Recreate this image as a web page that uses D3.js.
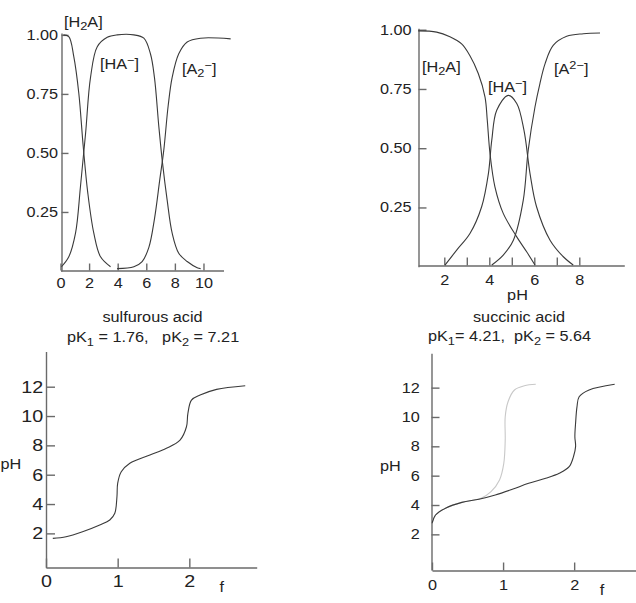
<!DOCTYPE html>
<html>
<head>
<meta charset="utf-8">
<script src="https://cdn.jsdelivr.net/npm/d3@7"></script>
<style>
  body { margin: 0; background: #fff; }
  svg { display: block; }
</style>
</head>
<body>
<div id="chart"></div>
<script>
/* * * * * * * * * * * * * *
*   data *
* * * * * * * * * * * * * */

// sulfurous acid, fraction vs pH
const sulfH2A_pH = [0.2, 0.58, 0.93, 1.28, 1.59, 1.91, 2.33, 2.8, 3.5];
const sulfH2A    = [1.0, 0.993, 0.908, 0.753, 0.527, 0.33, 0.16, 0.06, 0.018];
const sulfHA_pH  = [0.07, 0.58, 1.05, 1.4, 1.75, 2.1, 2.57, 3.27, 3.96, 5.13, 5.83, 6.29, 6.57, 6.88, 7.13, 7.46, 7.81, 8.27, 8.86, 9.56, 9.8];
const sulfHA     = [0.018, 0.06, 0.16, 0.36, 0.58, 0.82, 0.95, 0.99, 1.0, 1.0, 0.986, 0.92, 0.82, 0.61, 0.46, 0.3, 0.16, 0.075, 0.04, 0.014, 0.01];
const sulfA2_pH  = [3.96, 5.13, 5.71, 6.18, 6.57, 6.95, 7.22, 7.53, 7.81, 8.27, 8.86, 9.79, 11.9];
const sulfA2     = [0.01, 0.018, 0.04, 0.1, 0.22, 0.39, 0.51, 0.70, 0.82, 0.92, 0.97, 0.986, 0.983];

// succinic acid, fraction vs pH
const succH2A_pH = [0.84, 1.66, 2.25, 2.77, 3.14, 3.51, 3.81, 3.91, 4.03, 4.25, 4.62, 5.22, 5.66, 6.03];
const succH2A    = [0.995, 0.99, 0.97, 0.94, 0.89, 0.815, 0.716, 0.618, 0.478, 0.337, 0.225, 0.126, 0.063, 0.007];
const succHA_pH  = [2.03, 2.55, 3.14, 3.66, 3.96, 4.11, 4.33, 4.84, 5.22, 5.54, 5.81, 6.1, 6.7, 7.29, 7.73];
const succHA     = [0.007, 0.07, 0.14, 0.253, 0.393, 0.534, 0.66, 0.723, 0.689, 0.576, 0.393, 0.253, 0.112, 0.042, 0.007];
const succA2_pH  = [4.11, 4.62, 5.07, 5.51, 5.73, 6.03, 6.25, 6.48, 6.84, 7.44, 8.18, 8.92];
const succA2     = [0.007, 0.049, 0.112, 0.281, 0.492, 0.674, 0.773, 0.857, 0.934, 0.972, 0.983, 0.986];

// titration curves, pH vs f
const sulfTit_f  = [0.095, 0.28, 0.51, 0.75, 0.89, 0.96, 0.99, 1.0, 1.05, 1.17, 1.45, 1.68, 1.87, 1.96, 1.98, 2.03, 2.15, 2.38, 2.78];
const sulfTit_pH = [1.66, 1.77, 2.11, 2.57, 2.91, 3.37, 4.5, 5.41, 6.2, 6.78, 7.34, 7.8, 8.36, 9.27, 10.18, 11.09, 11.43, 11.82, 12.07];
const succTit_f  = [0, 0.05, 0.19, 0.42, 0.66, 0.89, 1.13, 1.36, 1.6, 1.79, 1.93, 1.99, 2.02, 2.01, 2.02, 2.04, 2.07, 2.21, 2.57];
const succTit_pH = [2.75, 3.32, 3.78, 4.18, 4.39, 4.68, 5.07, 5.48, 5.82, 6.16, 6.61, 7.29, 7.98, 8.66, 9.57, 10.7, 11.38, 11.84, 12.23];
const monoTit_f  = [0, 0.05, 0.19, 0.42, 0.69, 0.83, 0.95, 1.01, 1.03, 1.03, 1.07, 1.16, 1.3, 1.46];
const monoTit_pH = [2.75, 3.32, 3.78, 4.18, 4.46, 4.91, 5.71, 6.84, 8.43, 10.02, 11.04, 11.84, 12.13, 12.23];

// ticks
const fracTicks = [0.25, 0.5, 0.75, 1.0];
const sulfPHTicks = [0, 2, 4, 6, 8, 10];
const succPHTicks = [2, 3, 4, 5, 6, 7, 8];
const fTicks = [0, 1, 2];
const titPHTicks = [2, 4, 6, 8, 10, 12];

/* * * * * * * * * * * * * */

const FONT = '"Liberation Sans", Arial, Helvetica, sans-serif';
const SX = 1.16;            // the original type is set wide
const AXIS_COLOR = '#6a6a6a';
const INK = '#3a3a3a';

const svg = d3.select('#chart')
    .append('svg')
    .attr('width', 636)
    .attr('height', 603);

function styleAxis(g, size) {
    g.attr('font-family', FONT).attr('font-size', size || 14);
    g.select('.domain').attr('stroke', AXIS_COLOR).attr('stroke-width', 1.4);
    g.selectAll('.tick line').attr('stroke', AXIS_COLOR).attr('stroke-width', 1.4);
    g.selectAll('.tick text').attr('fill', '#222').attr('transform', `scale(${SX},1)`);
}

function drawAxes(x, y, o) {
    svg.append('g')
        .attr('transform', `translate(0,${o.xAxisY})`)
        .call(d3.axisBottom(x)
            .tickValues(o.xTicks)
            .tickSizeInner(-o.tick)
            .tickSizeOuter(0)
            .tickPadding(o.xPad)
            .tickFormat(o.xFormat || d3.format('d')))
        .call(styleAxis, o.fontSize);

    svg.append('g')
        .attr('transform', `translate(${o.yAxisX},0)`)
        .call(d3.axisLeft(y)
            .tickValues(o.yTicks)
            .tickSizeInner(-o.tick)
            .tickSizeOuter(0)
            .tickPadding(o.yPad)
            .tickFormat(o.yFormat))
        .call(styleAxis, o.fontSize);
}

function drawCurve(x, y, xs, ys, color) {
    const pts = xs.map((v, i) => [v, ys[i]]);
    svg.append('path')
        .datum(pts)
        .attr('fill', 'none')
        .attr('stroke', color)
        .attr('stroke-width', 1.1)
        .attr('d', d3.line()
            .x(d => x(d[0]))
            .y(d => y(d[1]))
            .curve(d3.curveCatmullRom.alpha(0.5)));
}

// text with optional sub/superscripts: parts = [[str, shift], ...]
function label(px, py, parts, anchor = 'start') {
    const t = svg.append('text')
        .attr('transform', `translate(${px},${py}) scale(${SX},1)`)
        .attr('font-family', FONT)
        .attr('font-size', 14)
        .attr('fill', '#222')
        .attr('text-anchor', anchor)
        .style('white-space', 'pre');
    let cur = 0;
    parts.forEach(([s, shift]) => {
        shift = shift || 0;
        t.append('tspan')
            .attr('dy', shift - cur)
            .attr('font-size', shift ? 11 : 14)
            .text(s);
        cur = shift;
    });
    return t;
}

// ---- top left: sulfurous acid species ----
const xTL = d3.scaleLinear().domain([0, 11.4]).range([60.5, 223.5]);
const yTL = d3.scaleLinear().domain([0, 1.008]).range([271, 33]);
drawAxes(xTL, yTL, {
    xAxisY: 270.5, yAxisX: 61.5, tick: 7,
    xTicks: sulfPHTicks, xPad: 8,
    yTicks: fracTicks, yPad: 3, yFormat: d3.format('.2f')
});
drawCurve(xTL, yTL, sulfH2A_pH, sulfH2A, INK);
drawCurve(xTL, yTL, sulfHA_pH, sulfHA, INK);
drawCurve(xTL, yTL, sulfA2_pH, sulfA2, INK);
label(64, 26.5, [['[H'], ['2', 3], ['A]']]);
label(100, 69, [['[HA'], ['\u2212', -5], [']']]);
label(182, 74, [['[A'], ['2', 3], ['\u2212', -5], [']']]);

// ---- top right: succinic acid species ----
const xTR = d3.scaleLinear().domain([0.84, 10.0]).range([418.2, 624.3]);
const yTR = d3.scaleLinear().domain([0, 1.006]).range([266.7, 28.3]);
drawAxes(xTR, yTR, {
    xAxisY: 265.5, yAxisX: 418.5, tick: 8,
    xTicks: succPHTicks, xPad: 9.5, xFormat: d => d % 2 === 0 ? d : '',
    yTicks: fracTicks, yPad: 6, yFormat: d3.format('.2f')
});
drawCurve(xTR, yTR, succH2A_pH, succH2A, INK);
drawCurve(xTR, yTR, succHA_pH, succHA, INK);
drawCurve(xTR, yTR, succA2_pH, succA2, INK);
label(422, 72, [['[H'], ['2', 3], ['A]']]);
label(488, 91.5, [['[HA'], ['\u2212', -5], [']']]);
label(554, 74, [['[A'], ['2\u2212', -5], [']']]);
label(517.5, 300, [['pH']], 'middle');

// ---- captions ----
label(152.5, 322, [['sulfurous acid']], 'middle');
label(67, 342, [['pK'], ['1', 4], [' = 1.76,   pK'], ['2', 4], [' = 7.21']]);
label(519, 321.5, [['succinic acid']], 'middle');
label(428, 341, [['pK'], ['1', 4], ['= 4.21,  pK'], ['2', 4], [' = 5.64']]);

// ---- bottom left: sulfurous acid titration (set in larger type) ----
const xBL = d3.scaleLinear().domain([0, 2.94]).range([46, 256.7]);
const yBL = d3.scaleLinear().domain([-0.34, 14.4]).range([567.7, 351.5]);
drawAxes(xBL, yBL, {
    xAxisY: 567.5, yAxisX: 46, tick: 9, fontSize: 17,
    xTicks: fTicks, xPad: 7.5,
    yTicks: titPHTicks, yPad: 2.5, yFormat: d3.format('d')
});
drawCurve(xBL, yBL, sulfTit_f, sulfTit_pH, INK);
label(221.7, 591.7, [['f']], 'middle');
label(0.5, 469, [['pH']]);

// ---- bottom right: succinic acid titration ----
const xBR = d3.scaleLinear().domain([0, 2.87]).range([432, 636]);
const yBR = d3.scaleLinear().domain([-0.43, 14.34]).range([570, 353.3]);
drawAxes(xBR, yBR, {
    xAxisY: 570.5, yAxisX: 431.5, tick: 8,
    xTicks: fTicks, xPad: 9.5,
    yTicks: titPHTicks, yPad: 10, yFormat: d3.format('d')
});
drawCurve(xBR, yBR, monoTit_f, monoTit_pH, '#c8c8c8');
drawCurve(xBR, yBR, succTit_f, succTit_pH, INK);
label(602, 595, [['f']], 'middle');
label(380, 471, [['pH']]);
</script>
</body>
</html>
